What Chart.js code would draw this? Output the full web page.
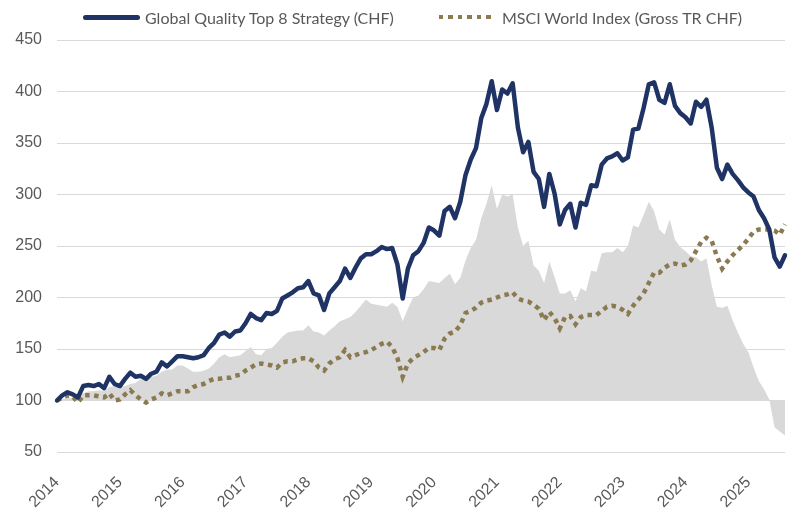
<!DOCTYPE html>
<html>
<head>
<meta charset="utf-8">
<script src="https://cdn.jsdelivr.net/npm/chart.js@4.4.1/dist/chart.umd.min.js"></script>
<style>
  html, body { margin: 0; padding: 0; background: #fff; }
  #wrap { position: relative; width: 792px; height: 508px; }
  #legend { position: absolute; left: 0; top: 0; width: 792px; height: 34px;
            font-family: Lato, 'Open Sans', sans-serif; font-size: 16px; color: #595959; }
  .item { position: absolute; top: 8px; height: 18px; display: flex; align-items: center; white-space: nowrap; }
  .swatch { display: inline-block; height: 5px; }
</style>
</head>
<body>
<div id="wrap">
  <canvas id="chart" width="792" height="508"></canvas>
  <div id="legend"></div>
</div>
<script>
// tick labels (one per January)
var years = ['2014', '2015', '2016', '2017', '2018', '2019', '2020', '2021', '2022', '2023', '2024', '2025'];

// monthly index levels, Jan 2014 - Aug 2025
var strategy = [
  100, 105, 108, 106, 103, 114, 115, 114, 116, 112,
  123, 116, 114, 121, 127, 123, 124, 121, 126, 128,
  137, 133, 138, 143, 143, 142, 141, 142, 144, 151,
  156, 164, 166, 162, 167, 168, 175, 184, 180, 178,
  185, 184, 187, 199, 202, 205, 209, 210, 216, 204,
  202, 188, 204, 210, 216, 228, 219, 229, 238, 242,
  242, 245, 249, 247, 248, 232, 199, 228, 241, 245,
  253, 268, 265, 260, 284, 288, 277, 293, 319, 334,
  345, 374, 388, 410, 382, 402, 398, 408, 365, 341,
  351, 322, 315, 288, 320, 301, 271, 285, 291, 268,
  292, 290, 309, 308, 329, 335, 337, 340, 333, 336,
  363, 364, 384, 407, 409, 392, 389, 407, 386, 379,
  375, 369, 390, 385, 392, 365, 326, 315, 329, 320,
  314, 307, 302, 298, 285, 277, 266, 239, 230, 241
];

var msci = [
  100, 103, 105, 104, 98, 105, 105, 105, 104, 103,
  107, 100, 101, 106, 110, 105, 101, 98, 101, 103,
  107, 105, 107, 109, 109, 109, 113, 115, 116, 119,
  121, 121, 122, 122, 124, 125, 129, 132, 135, 136,
  135, 134, 132, 137, 138, 138, 140, 141, 141, 138,
  132, 129, 136, 140, 142, 149, 142, 144, 146, 147,
  149, 152, 155, 157, 152, 141, 123, 136, 141, 144,
  147, 151, 151, 149, 160, 165, 167, 173, 185, 187,
  190, 195, 197, 198, 200, 202, 203, 205, 199, 197,
  196, 193, 189, 178, 186, 180, 170, 181, 182, 174,
  181, 183, 183, 183, 187, 191, 192, 191, 188, 184,
  192, 198, 204, 214, 224, 224, 229, 232, 233, 231,
  232, 236, 245, 254, 258, 255, 240, 228, 235, 241,
  246, 251, 257, 264, 266, 266, 266, 265, 261, 271
];

// grey area: relative performance, filled from the 100 line
var relative = [
  100, 101, 103, 102, 105, 107, 109, 109, 110, 109,
  113, 114, 113, 114, 116, 117, 121, 122, 123, 124,
  128, 130, 130, 134, 134, 131, 128, 128, 129, 131,
  136, 142, 145, 142, 143, 144, 148, 152, 145, 144,
  150, 151, 156, 162, 166, 167, 168, 168, 173, 167,
  166, 163, 168, 172, 177, 179, 181, 186, 192, 198,
  194, 193, 192, 191, 195, 191, 177, 189, 200, 202,
  208, 216, 215, 214, 219, 223, 213, 219, 236, 248,
  256, 277, 291, 309, 286, 300, 298, 300, 268, 250,
  255, 231, 226, 214, 235, 220, 204, 204, 207, 196,
  209, 206, 226, 225, 243, 244, 244, 248, 244, 250,
  270, 268, 280, 293, 284, 266, 261, 276, 256, 249,
  245, 240, 239, 235, 238, 212, 191, 190, 192, 178,
  166, 155, 147, 132, 119, 111, 101, 74, 70, 66
];

var months = [];
years.forEach(function(y) {
  for (var m = 1; m <= 12; m++) {
    if (months.length < strategy.length) months.push(y + '-' + (m < 10 ? '0' + m : m));
  }
});

var navy = '#1F3465';
var gold = '#8B7A51';
var grey = '#D9D9D9';
var textGrey = '#595959';
var tickFont = { family: "'Liberation Sans', Arial, sans-serif", size: 16 };

var chart = new Chart('chart', {
  type: 'line',
  data: {
    labels: months,
    datasets: [
      {
        label: 'Global Quality Top 8 Strategy (CHF)',
        data: strategy,
        borderColor: navy,
        borderWidth: 4.5,
        borderJoinStyle: 'round',
        borderCapStyle: 'round',
        pointRadius: 0,
        fill: false,
        order: 1
      },
      {
        label: 'MSCI World Index (Gross TR CHF)',
        data: msci,
        borderColor: gold,
        borderWidth: 4.5,
        borderDash: [4.5, 4.5],
        borderCapStyle: 'butt',
        pointRadius: 0,
        fill: false,
        order: 2
      },
      {
        label: 'Relative',
        data: relative,
        borderWidth: 0,
        borderColor: grey,
        backgroundColor: grey,
        pointRadius: 0,
        fill: { value: 100 },
        order: 3
      }
    ]
  },
  options: {
    responsive: false,
    animation: false,
    layout: { padding: { left: 15, right: 7, top: 40, bottom: 0 } },
    plugins: {
      legend: { display: false },
      tooltip: { enabled: false }
    },
    scales: {
      x: {
        grid: { display: false },
        border: { display: false },
        afterFit: function(s) {
          s.height = 56;
          s.paddingLeft = 0;
          s.paddingRight = 0;
        },
        ticks: {
          autoSkip: false,
          minRotation: 45,
          maxRotation: 45,
          padding: 13,
          color: textGrey,
          font: tickFont,
          callback: function(v, i) {
            var l = months[i];
            return l.slice(5) === '01' ? l.slice(0, 4) : null;
          }
        }
      },
      y: {
        min: 50,
        max: 450,
        afterFit: function(s) { s.width = 42; },
        grid: { color: grey, lineWidth: 1, drawTicks: false },
        border: { display: false },
        ticks: { stepSize: 50, padding: 15, color: textGrey, font: tickFont }
      }
    }
  }
});

// legend as html, built from the datasets
var legendPos = [83, 439];
var legend = document.getElementById('legend');
chart.data.datasets.slice(0, 2).forEach(function(ds, i) {
  var item = document.createElement('div');
  item.className = 'item';
  item.style.left = legendPos[i] + 'px';
  var sw = document.createElement('span');
  sw.className = 'swatch';
  if (i === 0) {
    sw.style.width = '57px';
    sw.style.background = ds.borderColor;
    sw.style.borderRadius = '3px';
    sw.style.marginRight = '5px';
  } else {
    sw.style.width = '54px';
    sw.style.height = '4.5px';
    sw.style.background = 'repeating-linear-gradient(to right, ' + ds.borderColor + ' 0 4.5px, transparent 4.5px 9.5px)';
    sw.style.marginRight = '9px';
  }
  var tx = document.createElement('span');
  tx.textContent = ds.label;
  item.appendChild(sw);
  item.appendChild(tx);
  legend.appendChild(item);
});
</script>
</body>
</html>
